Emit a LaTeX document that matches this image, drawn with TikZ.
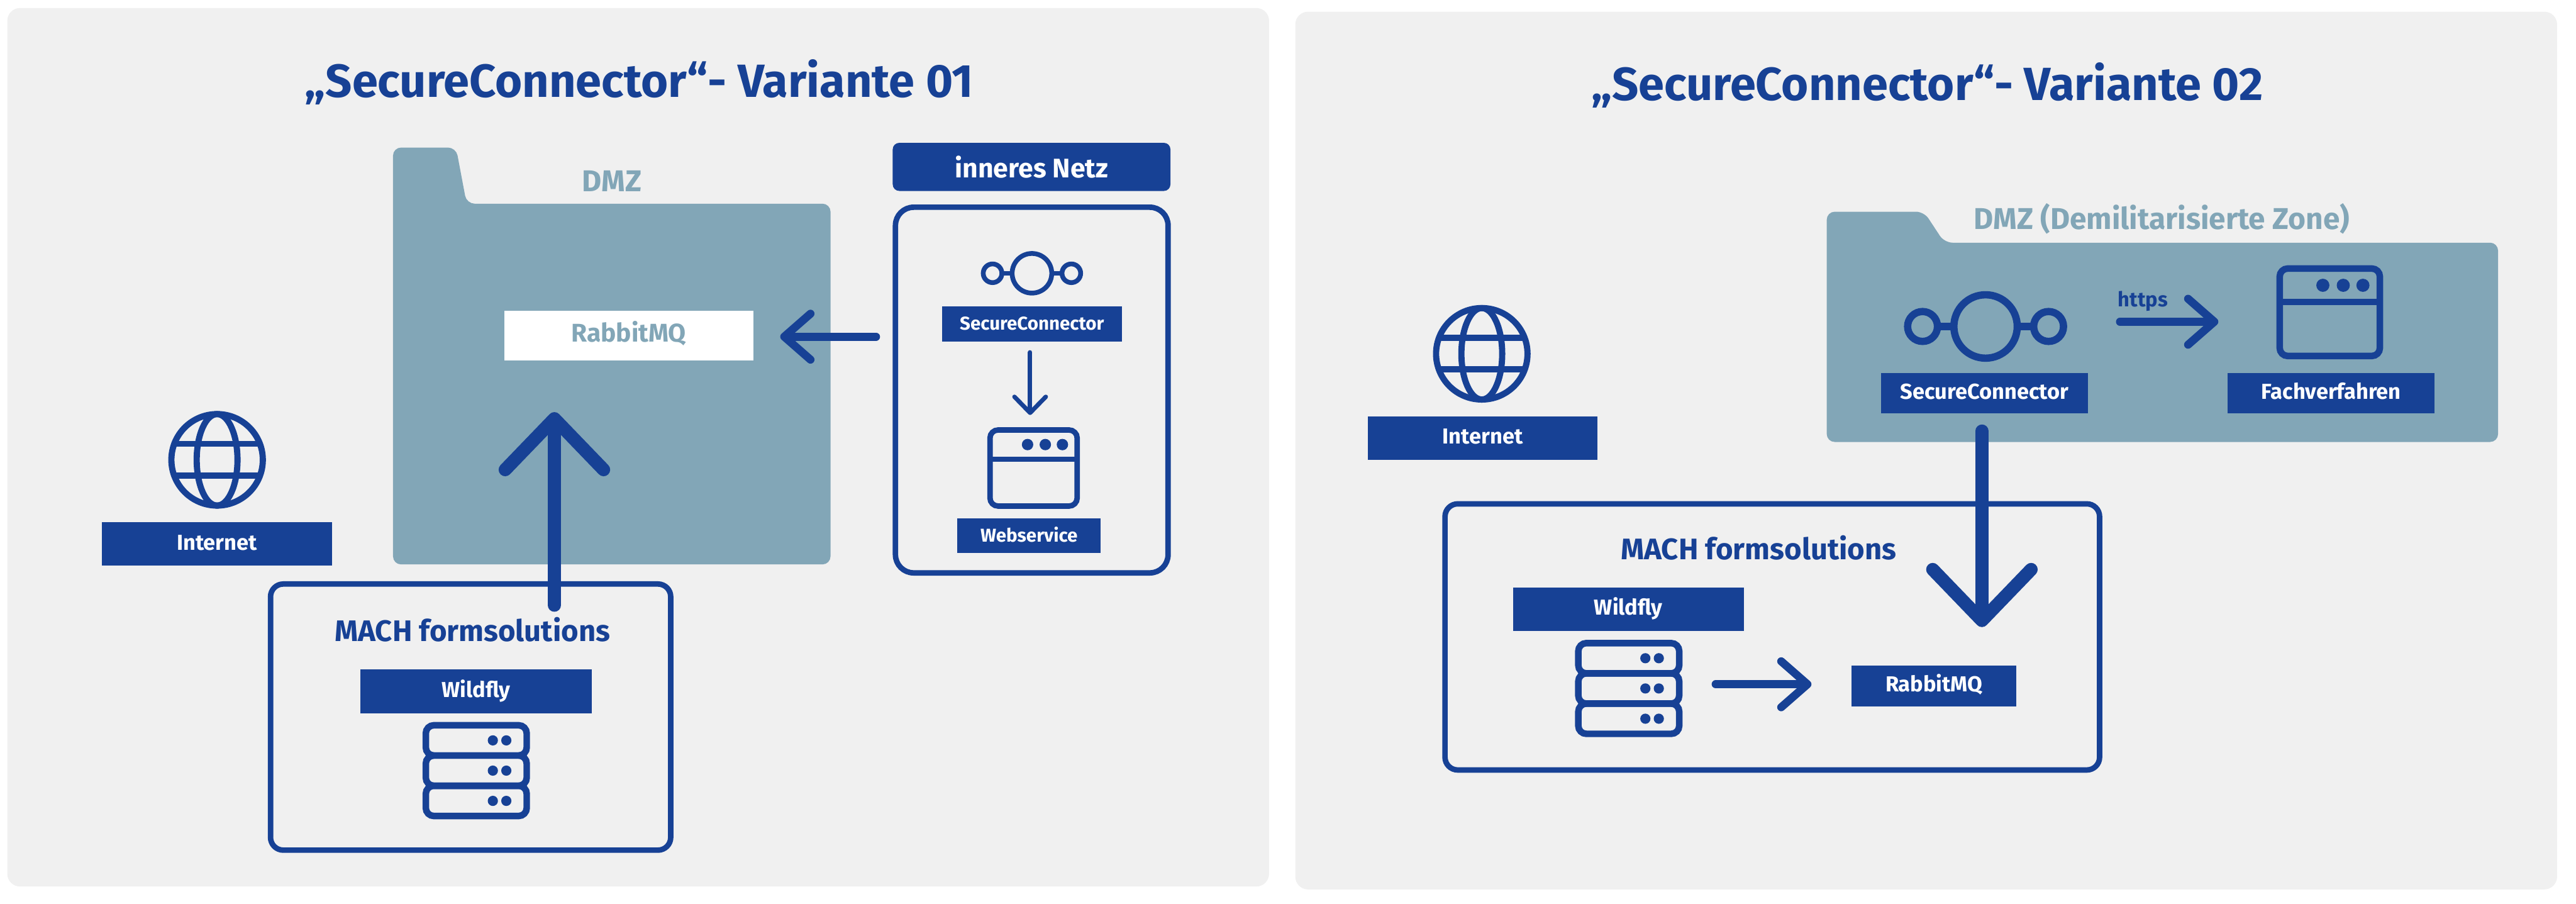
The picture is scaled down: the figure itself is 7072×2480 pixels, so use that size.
\documentclass[tikz,border=0pt]{standalone}
\usepackage{fontspec}
\usepackage{xcolor}
\usetikzlibrary{arrows.meta}
\setmainfont{Fira Sans}
\definecolor{machblue}{HTML}{174195}
\definecolor{dmzblue}{HTML}{82A6B7}
\definecolor{panelgrey}{HTML}{F0F0F0}

\begin{document}
\begin{tikzpicture}[x=0.01cm,y=-0.01cm]
      \useasboundingbox(0,0) rectangle (7072,2480);
      \tikzset{panel/.style = {fill=panelgrey,rounded corners=0.35cm}}
      \tikzset{folder/.style = {fill=dmzblue,rounded corners=0.22cm}}
      \tikzset{L/.style = {fill=machblue,text=white,inner sep=0pt,text height=0.94em,text depth=0em,font=\bfseries\fontsize{16.9}{20}\selectfont}}
      \tikzset{Lsmall/.style = {L,font=\bfseries\fontsize{14.5}{17}\selectfont}}
      \tikzset{T/.style = {text=machblue,inner sep=0pt,font=\bfseries\fontsize{23.2}{28}\selectfont}}
      \tikzset{Title/.style = {text=machblue,inner sep=0pt,font=\bfseries\fontsize{36.3}{42}\selectfont}}
      \tikzset{Z/.style = {text=dmzblue,inner sep=0pt,font=\bfseries\fontsize{23.5}{28}\selectfont}}
      \tikzset{F/.style = {draw=machblue,line width=0.15cm,rounded corners=#1}}
      \tikzset{A/.style = {draw=machblue,line width=0.22cm,line cap=round,-{Straight Barb[round,length=0.72cm,width=1.26cm]}}}
      \tikzset{Asmall/.style = {draw=machblue,line width=0.12cm,line cap=round,-{Straight Barb[round,length=0.44cm,width=0.86cm]}}}
      \tikzset{Abig/.style = {draw=machblue,line width=0.36cm,line cap=round,-{Straight Barb[round,length=1.4cm,width=2.7cm]}}}
      \tikzset{icon/.style = {color=machblue,line width=#1}}
      \tikzset{globe/.pic = {
        \draw (0,0) circle[radius=125.5];
        \draw (0,0) ellipse[x radius=56,y radius=125.5];
        \draw (-117,-44) -- (117,-44);
        \draw (-117,43) -- (117,43);
      }}
      \tikzset{server/.pic = {
        \foreach \row in {-83,0,83} {
          \draw[rounded corners=0.22cm] (-138.5,\row-41.5) rectangle (138.5,\row+41.5);
          \fill (45.5,\row) circle[radius=14];
          \fill (82.5,\row) circle[radius=14];
        }
      }}
      \tikzset{window/.pic = {
        \draw[rounded corners=0.22cm] (-137.5,-120) rectangle (137.5,120);
        \draw (-137.5,-28) -- (137.5,-28);
        \foreach \dot in {-19,37,91} {\fill (\dot,-74) circle[radius=18];}
      }}
      \tikzset{connector/.pic = {
        \draw (0,0) circle[radius=87];
        \draw (-173,0) circle[radius=41];
        \draw (173,0) circle[radius=41];
        \draw (-132,0) -- (-87,0);
        \draw (87,0) -- (132,0);
      }}
      \fill[panel] (20,22) rectangle (3484,2433);
      \fill[panel] (3556,32) rectangle (7020,2441);
      \node[Title](title1) at (1755,226) {„SecureConnector“- Variante 01};
      \node[Title](title2) at (5291,234) {„SecureConnector“- Variante 02};

      \fill[folder] (1079,1549) -- (1079,405) -- (1252,405) -- (1281,559) -- (2280,559) -- (2280,1549) -- cycle;
      \node[Z](dmz1) at (1680,497) {DMZ};
      \node[fill=white,text=dmzblue,inner sep=0pt,minimum width=6.83cm,minimum height=1.35cm,text height=0.95em,text depth=0em,font=\bfseries\fontsize{20}{24}\selectfont](rabbit1) at (1726,921) {RabbitMQ};
      \node[fill=machblue,text=white,inner sep=0pt,rounded corners=0.18cm,minimum width=7.62cm,minimum height=1.32cm,font=\bfseries\fontsize{21}{25}\selectfont](netz) at (2832,458) {inneres Netz};
      \node[F=0.5cm,minimum width=7.48cm,minimum height=10.03cm](inner) at (2832.5,1070.5) {};
      \pic[icon=0.13cm,scale=0.625](conn1) at (2833,750) {connector};
      \node[Lsmall,minimum width=4.94cm,minimum height=0.96cm](sc1) at (2833,889) {SecureConnector};
      \coordinate (sc1out) at (2828,967);
      \coordinate (web1in) at (2828,1139);
      \draw[Asmall](sc1out) to (web1in);
      \pic[icon=0.15cm,scale=0.87](win1) at (2837.5,1284.5) {window};
      \node[Lsmall,minimum width=3.94cm,minimum height=0.95cm](web1) at (2825,1470.5) {Webservice};
      \coordinate (conn1out) at (2405,924);
      \coordinate (rabbit1in) at (2142,924);
      \draw[A](conn1out) to (rabbit1in);
      \pic[icon=0.17cm](globe1) at (596,1262) {globe};
      \node[L,minimum width=6.31cm,minimum height=1.19cm](inet1) at (595.5,1492.5) {Internet};
      \node[F=0.35cm,minimum width=10.98cm,minimum height=7.3cm](mach1) at (1292,1968) {};
      \node[T](machtext1) at (1297,1727) {MACH formsolutions};
      \node[L,minimum width=6.34cm,minimum height=1.2cm](wild1) at (1307,1897) {Wildfly};
      \pic[icon=0.18cm](srv1) at (1307.5,2115) {server};
      \coordinate (mach1out) at (1522,1661);
      \coordinate (rabbit1up) at (1522,1131);
      \draw[Abig](mach1out) to (rabbit1up);

      \fill[folder] (5015,1213) -- (5015,581) -- (5282,581) -- (5338,666) -- (6858,666) -- (6858,1213) -- cycle;
      \node[Z](dmz2) at (5935,601) {DMZ (Demilitarisierte Zone)};
      \pic[icon=0.2cm](conn2) at (5451,896) {connector};
      \node[L,minimum width=5.68cm,minimum height=1.1cm](sc2) at (5448,1079) {SecureConnector};
      \pic[icon=0.18cm](win2) at (6396,857) {window};
      \node[L,minimum width=5.68cm,minimum height=1.1cm](fach) at (6400,1079) {Fachverfahren};
      \coordinate (conn2out) at (5820,883);
      \coordinate (win2in) at (6090,883);
      \draw[A](conn2out) to (win2in);
      \node[text=machblue,inner sep=0pt,font=\bfseries\fontsize{16}{19}\selectfont](https) at (5883,827) {https};
      \pic[icon=0.17cm](globe2) at (4068,971) {globe};
      \node[L,minimum width=6.31cm,minimum height=1.19cm](inet2) at (4070.5,1202) {Internet};
      \node[F=0.35cm,minimum width=17.96cm,minimum height=7.3cm](mach2) at (4865.5,1748) {};
      \node[T](machtext2) at (4828,1504) {MACH formsolutions};
      \node[L,minimum width=6.33cm,minimum height=1.19cm](wild2) at (4470.5,1671.5) {Wildfly};
      \pic[icon=0.18cm](srv2) at (4471.5,1889.5) {server};
      \node[L,minimum width=4.53cm,minimum height=1.11cm](rabbit2) at (5309.5,1882.5) {RabbitMQ};
      \coordinate (srv2out) at (4710,1878);
      \coordinate (rabbit2in) at (4973,1878);
      \draw[A](srv2out) to (rabbit2in);
      \coordinate (conn2down) at (5441,1183);
      \coordinate (rabbit2top) at (5441,1721);
      \draw[Abig](conn2down) to (rabbit2top);
\end{tikzpicture}
\end{document}
